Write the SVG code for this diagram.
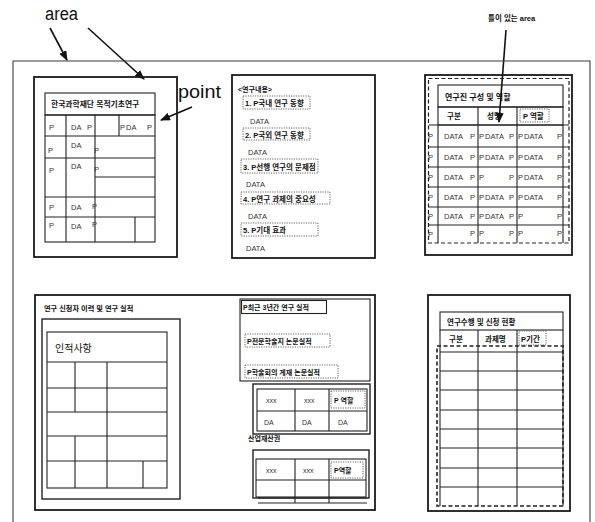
<svg xmlns="http://www.w3.org/2000/svg" width="595" height="522" viewBox="0 0 595 522">
<defs>
<style>
.frame{fill:none;stroke:#3a3a3a;stroke-width:1.1}
.panel{fill:none;stroke:#1a1a1a;stroke-width:1.8}
.ln{fill:none;stroke:#222;stroke-width:1.1}
.dot{fill:none;stroke:#555;stroke-width:0.9;stroke-dasharray:1.2 1.2}
.dash{fill:none;stroke:#222;stroke-width:1.6;stroke-dasharray:4 2.5}
.arr{fill:none;stroke:#111;stroke-width:1.6}
text{font-family:'Liberation Sans','Noto Sans CJK KR',sans-serif;fill:#111}
.k{font-weight:bold;font-size:7.5px}
.d{font-size:7.5px;fill:#333}
.big{font-size:18px}
</style>
<marker id="ah" markerUnits="userSpaceOnUse" markerWidth="10" markerHeight="8" refX="9" refY="4" orient="auto">
<path d="M0,0 L10,4 L0,8 z" fill="#111"/>
</marker>
</defs>
<rect width="595" height="522" fill="#fff"/>

<g id="labels">
<text x="45" y="20" class="big" textLength="33" lengthAdjust="spacingAndGlyphs">area</text>
<text x="178" y="98" class="big" textLength="43" lengthAdjust="spacingAndGlyphs">point</text>
<text x="488" y="21" class="k">틀이 있는 area</text>
</g>

<g id="connectors">
<line class="arr" x1="50" y1="28" x2="67" y2="60" marker-end="url(#ah)"/>
<line class="arr" x1="88" y1="28" x2="144" y2="79" marker-end="url(#ah)"/>
<line class="arr" x1="192" y1="107" x2="161" y2="120" marker-end="url(#ah)"/>
<line class="arr" x1="506" y1="30" x2="499" y2="122" marker-end="url(#ah)"/>
</g>

<g id="outer-area">
<path class="frame" d="M13,522 V61 H590 V522"/>
</g>

<g id="panel-kosef">
<rect class="panel" x="34" y="77" width="143" height="180"/>
<rect class="ln" x="45" y="93" width="110" height="22"/>
<text x="51" y="107" class="k" style="font-size:7.8px">한국과학재단 목적기초연구</text>
<rect class="ln" x="45" y="115" width="110" height="127"/>
<path class="ln" d="M45,136 H155 M45,158 H155 M45,197 H155 M45,217 H155 M95,177 H155 M66,115 V242 M95,115 V242 M119,115 V136 M135,217 V242"/>
<g>
<text x="49" y="130" class="d">P</text><text x="71" y="130" class="d">DA</text><text x="87" y="130" class="d">P</text>
<text x="120" y="130" class="d">P</text><text x="126" y="130" class="d">DA</text><text x="147" y="130" class="d">P</text>
<text x="48" y="153" class="d">P</text><text x="71" y="148" class="d">DA</text><text x="94" y="153" class="d">P</text>
<text x="49" y="173" class="d">P</text><text x="71" y="169" class="d">DA</text><text x="94" y="172" class="d">P</text>
<text x="49" y="210" class="d">P</text><text x="71" y="210" class="d">DA</text><text x="92" y="209" class="d">P</text>
<text x="49" y="228" class="d">P</text><text x="71" y="229" class="d">DA</text><text x="92" y="227" class="d">P</text>
</g>
</g>

<g id="panel-content">
<rect class="panel" x="232" y="75" width="143" height="183"/>
<text x="238" y="92" class="k" style="font-size:7px">&lt;연구내용&gt;</text>
<rect class="dot" x="243" y="96" width="67" height="13"/>
<text x="245" y="106" class="k">1. P국내 연구 동향</text>
<text x="250" y="124" class="d">DATA</text>
<rect class="dot" x="243" y="128" width="67" height="12"/>
<text x="245" y="138" class="k">2. P국외 연구 동향</text>
<text x="248" y="155" class="d">DATA</text>
<rect class="dot" x="241" y="159" width="77" height="14"/>
<text x="243" y="170" class="k">3. P선행 연구의 문제점</text>
<text x="246" y="187" class="d">DATA</text>
<rect class="dot" x="241" y="192" width="89" height="12"/>
<text x="243" y="202" class="k">4. P연구 과제의 중요성</text>
<text x="248" y="219" class="d">DATA</text>
<rect class="dot" x="241" y="223" width="77" height="13"/>
<text x="243" y="233" class="k">5. P기대 효과</text>
<text x="246" y="251" class="d">DATA</text>
</g>

<g id="panel-team">
<rect class="panel" x="425" y="75" width="147" height="180"/>
<rect class="dash" x="428.5" y="78.5" width="140.5" height="164.5" style="stroke-width:1.2"/>
<rect class="ln" x="438" y="85" width="125" height="22"/>
<text x="445" y="100" class="k" style="font-size:8px">연구진 구성 및 역할</text>
<rect class="ln" x="438" y="107" width="125" height="18"/>
<path class="ln" d="M478,107 V243 M517,107 V243 M438,125 V243 M429,125 H569 M429,147 H569 M429,167 H569 M429,187 H569 M429,207 H569 M429,225 H569 M563,125 V243"/>
<text x="447" y="119" class="k">구분</text>
<text x="487" y="119" class="k">성명</text>
<rect class="dot" x="520" y="109" width="29" height="13"/>
<text x="523" y="119" class="k">P 역할</text>
<g>
<text x="428" y="139" class="d">P</text><text x="444" y="139" class="d">DATA</text><text x="470" y="139" class="d">P</text><text x="479" y="139" class="d">P</text><text x="485" y="139" class="d">DATA</text><text x="509" y="139" class="d">P</text><text x="518" y="139" class="d">P</text><text x="524" y="139" class="d">DATA</text><text x="557" y="139" class="d">P</text>
<text x="428" y="160" class="d">P</text><text x="444" y="160" class="d">DATA</text><text x="470" y="160" class="d">P</text><text x="479" y="160" class="d">P</text><text x="485" y="160" class="d">DATA</text><text x="509" y="160" class="d">P</text><text x="518" y="160" class="d">P</text><text x="524" y="160" class="d">DATA</text><text x="557" y="160" class="d">P</text>
<text x="428" y="180" class="d">P</text><text x="444" y="180" class="d">DATA</text><text x="470" y="180" class="d">P</text><text x="479" y="180" class="d">P</text><text x="509" y="180" class="d">P</text><text x="518" y="180" class="d">P</text><text x="524" y="180" class="d">DATA</text><text x="557" y="180" class="d">P</text>
<text x="428" y="200" class="d">P</text><text x="444" y="200" class="d">DATA</text><text x="470" y="200" class="d">P</text><text x="479" y="200" class="d">P</text><text x="485" y="200" class="d">DATA</text><text x="509" y="200" class="d">P</text><text x="518" y="200" class="d">P</text><text x="524" y="200" class="d">DATA</text><text x="557" y="200" class="d">P</text>
<text x="428" y="219" class="d">P</text><text x="444" y="219" class="d">DATA</text><text x="470" y="219" class="d">P</text><text x="479" y="219" class="d">P</text><text x="485" y="219" class="d">DATA</text><text x="509" y="219" class="d">P</text><text x="518" y="219" class="d">P</text><text x="557" y="219" class="d">P</text>
<text x="428" y="237" class="d">P</text><text x="470" y="236" class="d">P</text><text x="479" y="236" class="d">P</text><text x="509" y="236" class="d">P</text><text x="518" y="236" class="d">P</text><text x="557" y="236" class="d">P</text>
</g>
</g>

<g id="panel-applicant">
<rect class="panel" x="35" y="295" width="340" height="215"/>
<text x="44" y="311" class="k" style="font-size:7.2px">연구 신청자 이력 및 연구 실적</text>
<rect class="ln" x="42" y="319" width="138" height="180" style="stroke-width:1.4"/>
<rect class="ln" x="47" y="332" width="120" height="156"/>
<text x="55" y="352" style="font-size:10px">인적사항</text>
<path class="ln" d="M47,362 H167 M47,388 H167 M47,412 H167 M47,436 H167 M47,461 H167 M75,362 V412 M75,436 V488 M107,362 V488 M143,461 V488"/>
<rect class="ln" x="240" y="299" width="130" height="82"/>
<rect class="ln" x="241.5" y="300.5" width="85" height="13"/>
<text x="243" y="310" class="k" style="font-size:7px">P최근 3년간 연구 실적</text>
<rect class="dot" x="245" y="334" width="85" height="13"/>
<text x="247" y="344" class="k" style="font-size:7px">P전문학술지 논문실적</text>
<rect class="dot" x="245" y="365" width="93" height="13"/>
<text x="247" y="375" class="k" style="font-size:7px">P학술회의 게재 논문실적</text>
<rect class="ln" x="253" y="384" width="117" height="50" style="stroke-width:1.4"/>
<rect class="ln" x="257" y="389" width="110" height="42"/>
<path class="ln" d="M257,411 H367 M295,389 V431 M329,389 V431"/>
<text x="266" y="403" class="d" style="font-size:7px">xxx</text>
<text x="304" y="403" class="d" style="font-size:7px">xxx</text>
<rect class="dot" x="331" y="391" width="34" height="17"/>
<text x="334" y="403" class="k" style="font-size:7px">P 역할</text>
<text x="264" y="425" class="d" style="font-size:7px">DA</text>
<text x="302" y="425" class="d" style="font-size:7px">DA</text>
<text x="338" y="425" class="d" style="font-size:7px">DA</text>
<text x="248" y="441" class="k" style="font-size:7px">산업재산권</text>
<rect class="ln" x="253" y="450" width="116" height="48" style="stroke-width:1.4"/>
<rect class="ln" x="256" y="459" width="110" height="38"/>
<path class="ln" d="M256,480 H366 M295,459 V503 M329,459 V503 M258,498 H367 M258,503 H367"/>
<text x="266" y="473" class="d" style="font-size:7px">xxx</text>
<text x="303" y="473" class="d" style="font-size:7px">xxx</text>
<rect class="dot" x="331" y="462" width="32" height="16"/>
<text x="334" y="473" class="k" style="font-size:7px">P역할</text>
</g>

<g id="panel-projects">
<rect class="panel" x="428" y="295" width="142" height="216"/>
<rect class="ln" x="440" y="312" width="123" height="18"/>
<text x="447" y="325" class="k">연구수행 및 신청 현황</text>
<path class="ln" d="M440,330 V506 M563,330 V506 M478,330 V506 M517,330 V506 M440,352 H563 M440,371 H563 M440,390 H563 M440,410 H563 M440,429 H563 M440,448 H563 M440,468 H563 M440,487 H563"/>
<text x="449" y="342" class="k">구분</text>
<text x="485" y="342" class="k">과제명</text>
<rect class="dot" x="519" y="331" width="27" height="14"/>
<text x="521" y="342" class="k">P기간</text>
<rect class="dash" x="437" y="346" width="126" height="160"/>
</g>
</svg>
